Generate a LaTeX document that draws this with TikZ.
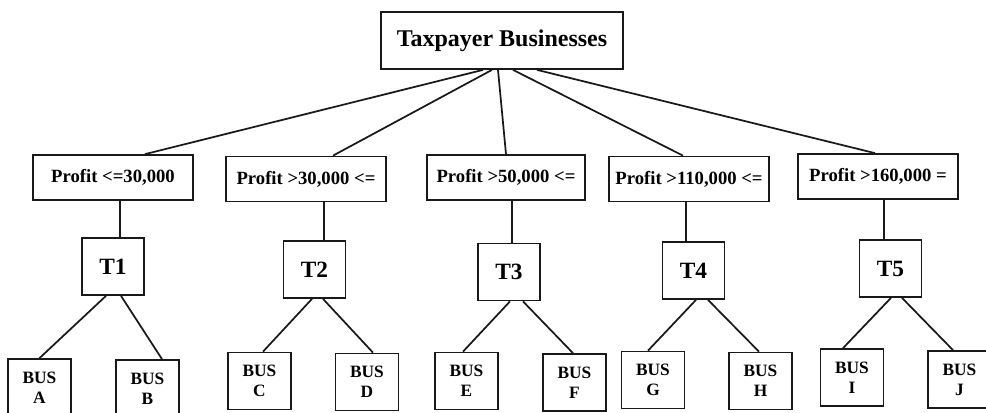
\documentclass[tikz,border=0pt]{standalone}
\usepackage{fontspec}
\setmainfont{Liberation Serif}
\usetikzlibrary{calc}
\tikzset{
  box/.style={draw=black!90, line width=1.3pt, fill=white, inner sep=0pt, align=center, font=\bfseries},
  topbox/.style={box, minimum width=242*0.75pt, minimum height=57*0.75pt, font=\fontsize{18}{21}\selectfont\bfseries},
  profbox/.style={box, minimum width=160*0.75pt, minimum height=45*0.75pt, font=\fontsize{14}{16}\selectfont\bfseries},
  tbox/.style={box, minimum width=62*0.75pt, minimum height=57*0.75pt, font=\fontsize{17.5}{20}\selectfont\bfseries},
  busbox/.style={box, minimum width=63*0.75pt, minimum height=57*0.75pt, font=\fontsize{13}{15}\selectfont\bfseries},
  link/.style={draw=black!90, line width=1.3pt}
}
\begin{document}
\begin{tikzpicture}[x=0.75pt,y=-0.75pt]
\useasboundingbox (0,0) rectangle (986,412);
\clip (0,0) rectangle (986,412);
\fill[white] (0,0) rectangle (986,412);
% top
\node[topbox] (top) at (502,40.5) {Taxpayer Businesses};
% profit boxes
\node[profbox] (p1) at (113,177.5) {Profit <=30,000};
\node[profbox] (p2) at (306,179) {Profit >30,000 <=};
\node[profbox, minimum width=158*0.75pt] (p3) at (506,177.5) {Profit >50,000 <=};
\node[profbox] (p4) at (689,179) {Profit >110,000 <=};
\node[profbox] (p5) at (878,176.5) {Profit >160,000 =};
% T boxes
\node[tbox] (t1) at (113,266.5) {T1};
\node[tbox] (t2) at (314.5,269.5) {T2};
\node[tbox] (t3) at (509,272) {T3};
\node[tbox] (t4) at (693.5,270.5) {T4};
\node[tbox] (t5) at (890.5,268.5) {T5};
% BUS boxes
\node[busbox] (ba) at (39.5,387.5) {BUS\\A};
\node[busbox] (bb) at (147.5,388.5) {BUS\\B};
\node[busbox] (bc) at (259.5,381) {BUS\\C};
\node[busbox] (bd) at (367,382) {BUS\\D};
\node[busbox] (be) at (466.5,381) {BUS\\E};
\node[busbox] (bf) at (574.5,382.5) {BUS\\F};
\node[busbox] (bg) at (653,380) {BUS\\G};
\node[busbox] (bh) at (760.5,381) {BUS\\H};
\node[busbox] (bi) at (852,377.5) {BUS\\I};
\node[busbox] (bj) at (959.5,379.5) {BUS\\J};
% top to profit
\draw[link] ($(top.south)+(-19,0)$) -- ($(p1.north)+(32,0)$);
\draw[link] ($(top.south)+(-10,0)$) -- ($(p2.north)+(27,0)$);
\draw[link] ($(top.south)+(-4,0)$) -- ($(p3.north)+(0,0)$);
\draw[link] ($(top.south)+(11,0)$) -- ($(p4.north)+(-6,0)$);
\draw[link] ($(top.south)+(35,0)$) -- ($(p5.north)+(-3,0)$);
% profit to T
\draw[link] ($(p1.south)+(7,0)$) -- ($(t1.north)+(7,0)$);
\draw[link] ($(p2.south)+(18,0)$) -- ($(t2.north)+(9.5,0)$);
\draw[link] ($(p3.south)+(6,0)$) -- ($(t3.north)+(3,0)$);
\draw[link] ($(p4.south)+(-3,0)$) -- ($(t4.north)+(-7.5,0)$);
\draw[link] ($(p5.south)+(6,0)$) -- ($(t5.north)+(-6.5,0)$);
% T to BUS
\draw[link] ($(t1.south)+(-7,0)$) -- ($(ba.north)+(0,0)$);
\draw[link] ($(t1.south)+(8,0)$) -- ($(bb.north)+(14.5,0)$);
\draw[link] ($(t2.south)+(-2.5,0)$) -- ($(bc.north)+(3.5,0)$);
\draw[link] ($(t2.south)+(8.5,0)$) -- ($(bd.north)+(6,0)$);
\draw[link] ($(t3.south)+(1,0)$) -- ($(be.north)+(-3.5,0)$);
\draw[link] ($(t3.south)+(14,0)$) -- ($(bf.north)+(-1.5,0)$);
\draw[link] ($(t4.south)+(2.5,0)$) -- ($(bg.north)+(-5,0)$);
\draw[link] ($(t4.south)+(14.5,0)$) -- ($(bh.north)+(-1.5,0)$);
\draw[link] ($(t5.south)+(0.5,0)$) -- ($(bi.north)+(-9,0)$);
\draw[link] ($(t5.south)+(11.5,0)$) -- ($(bj.north)+(-6.5,0)$);
\end{tikzpicture}
\end{document}
